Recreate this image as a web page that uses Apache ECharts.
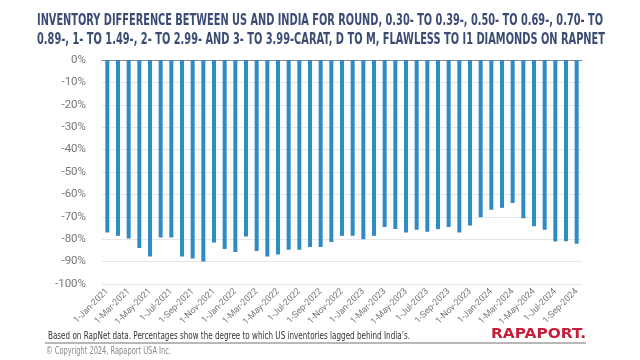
<!DOCTYPE html>
<html>
<head>
<meta charset="utf-8">
<script src="https://cdn.jsdelivr.net/npm/echarts@6/dist/echarts.min.js"></script>
<style>html,body{margin:0;padding:0;background:#fff;}#c{width:640px;height:360px;}</style>
</head>
<body>
<div id="c"></div>
<script>
var categories = ['1-Jan-2021','1-Feb-2021','1-Mar-2021','1-Apr-2021','1-May-2021','1-Jun-2021','1-Jul-2021','1-Aug-2021','1-Sep-2021','1-Oct-2021','1-Nov-2021','1-Dec-2021',
'1-Jan-2022','1-Feb-2022','1-Mar-2022','1-Apr-2022','1-May-2022','1-Jun-2022','1-Jul-2022','1-Aug-2022','1-Sep-2022','1-Oct-2022','1-Nov-2022','1-Dec-2022',
'1-Jan-2023','1-Feb-2023','1-Mar-2023','1-Apr-2023','1-May-2023','1-Jun-2023','1-Jul-2023','1-Aug-2023','1-Sep-2023','1-Oct-2023','1-Nov-2023','1-Dec-2023',
'1-Jan-2024','1-Feb-2024','1-Mar-2024','1-Apr-2024','1-May-2024','1-Jun-2024','1-Jul-2024','1-Aug-2024','1-Sep-2024'];
var inventoryDiff = [-77.0,-78.5,-79.7,-83.9,-87.7,-79.2,-79.2,-87.7,-88.6,-89.9,-81.5,-84.4,
-85.7,-78.8,-85.3,-87.7,-86.8,-84.7,-84.7,-83.5,-83.5,-81.3,-78.5,-78.5,
-80.0,-78.5,-74.6,-75.4,-77.0,-75.8,-76.7,-75.5,-74.5,-77.0,-73.9,-70.2,
-66.9,-66.0,-63.8,-70.6,-74.2,-75.8,-81.0,-80.9,-82.0];
var titleLines = ['INVENTORY DIFFERENCE BETWEEN US AND INDIA FOR ROUND, 0.30- TO 0.39-, 0.50- TO 0.69-, 0.70- TO',
'0.89-, 1- TO 1.49-, 2- TO 2.99- AND 3- TO 3.99-CARAT, D TO M, FLAWLESS TO I1 DIAMONDS ON RAPNET'];
var footNote = 'Based on RapNet data. Percentages show the degree to which US inventories lagged behind India\u2019s.';
var copyright = '\u00a9 Copyright 2024, Rapaport USA Inc.';
var logoText = 'RAPAPORT.';

var mctx = document.createElement('canvas').getContext('2d');
function fitText(text, font, x0, x1, yMid, fill) {
  mctx.font = font;
  var w = mctx.measureText(text).width;
  var s = (x1 - x0) / w;
  return {type:'text', x:x0, y:yMid, scaleX:s, originX:0, originY:0,
    style:{text:text, font:font, fill:fill, textVerticalAlign:'middle', textAlign:'left'}};
}

var chart = echarts.init(document.getElementById('c'), null, {renderer:'canvas'});
var titleFont = 'bold 15px "DejaVu Sans",sans-serif';
chart.setOption({
  backgroundColor:'#fff',
  animation:false,
  grid:{left:102, right:58, top:60, bottom:76, containLabel:false},
  xAxis:[{
    type:'category', data:categories, position:'bottom',
    axisLine:{show:false, onZero:false}, axisTick:{show:false},
    axisLabel:{interval:1, rotate:45, fontSize:9, color:'#777', fontFamily:'"Roboto",sans-serif', margin:6}
  },{
    type:'category', data:categories, position:'top',
    axisLine:{show:true, lineStyle:{color:'#888', width:1}}, axisTick:{show:false}, axisLabel:{show:false}
  }],
  yAxis:{
    type:'value', min:-100, max:0, interval:10,
    axisLine:{show:false}, axisTick:{show:false},
    axisLabel:{formatter:'{value}%', color:'#777', fontSize:11.5, fontFamily:'"Roboto","Liberation Sans",sans-serif', margin:16},
    splitLine:{lineStyle:{color:'#e6e6e6', width:1}}
  },
  series:[{
    type:'bar', data:inventoryDiff, barWidth:4,
    itemStyle:{color:'#2f8ac6'}
  }],
  graphic:[
    fitText(titleLines[0], titleFont, 37, 603, 21.5, '#3b4c74'),
    fitText(titleLines[1], titleFont, 37, 605, 40, '#3b4c74'),
    fitText(footNote, '11px "DejaVu Sans",sans-serif', 48, 410, 336, '#333'),
    {type:'line', shape:{x1:45, y1:343, x2:586, y2:343}, style:{stroke:'#a0a0a0', lineWidth:1.5}},
    fitText(logoText, 'bold 14.5px "DejaVu Sans",sans-serif', 491, 586, 334.5, '#c41e3a'),
    fitText(copyright, '10px "DejaVu Sans",sans-serif', 46, 171, 351, '#888')
  ]
});
</script>
</body>
</html>
